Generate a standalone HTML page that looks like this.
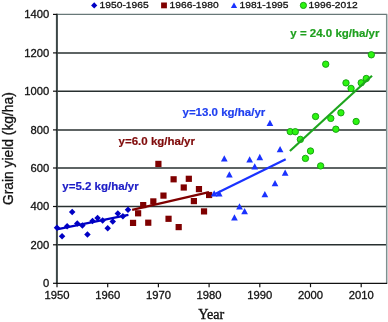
<!DOCTYPE html>
<html><head><meta charset="utf-8"><style>
html,body{margin:0;padding:0;background:#fff;}
body{width:388px;height:322px;overflow:hidden;}
svg{display:block;will-change:transform;}
.tl{font-family:"Liberation Sans",sans-serif;font-size:11.25px;fill:#111;stroke:#111;stroke-width:0.3px;}
.lg{font-family:"Liberation Sans",sans-serif;font-size:10.25px;fill:#111;stroke:#111;stroke-width:0.3px;}
.an{font-family:"Liberation Sans",sans-serif;font-size:11.5px;font-weight:bold;stroke-width:0.2px;}
.yt{font-family:"Liberation Sans",sans-serif;font-size:13.8px;fill:#111;stroke:#111;stroke-width:0.3px;}
.xt{font-family:"Liberation Serif",serif;font-size:14.1px;fill:#111;stroke:#111;stroke-width:0.35px;}
</style></head><body>
<svg width="388" height="322" viewBox="0 0 388 322">
<line x1="57" y1="52.9" x2="386.5" y2="52.9" stroke="#283030" stroke-width="1.45"/>
<line x1="57" y1="91.2" x2="386.5" y2="91.2" stroke="#283030" stroke-width="1.45"/>
<line x1="57" y1="129.9" x2="386.5" y2="129.9" stroke="#283030" stroke-width="1.45"/>
<line x1="57" y1="168.0" x2="386.5" y2="168.0" stroke="#283030" stroke-width="1.45"/>
<line x1="57" y1="206.5" x2="386.5" y2="206.5" stroke="#283030" stroke-width="1.45"/>
<line x1="57" y1="244.8" x2="386.5" y2="244.8" stroke="#283030" stroke-width="1.45"/>
<line x1="57" y1="14.4" x2="387.2" y2="14.4" stroke="#687878" stroke-width="1.3"/>
<line x1="386.7" y1="14.4" x2="386.7" y2="283.3" stroke="#7f9090" stroke-width="1.5"/>
<line x1="56.9" y1="13.8" x2="56.9" y2="284" stroke="#3b4646" stroke-width="2"/>
<line x1="56" y1="283.3" x2="387.2" y2="283.3" stroke="#111" stroke-width="1.3"/>
<line x1="53" y1="14.4" x2="57" y2="14.4" stroke="#111" stroke-width="1.2"/>
<text transform="translate(49.3,18.3) scale(1,0.95)" class="tl" text-anchor="end">1400</text>
<line x1="53" y1="52.9" x2="57" y2="52.9" stroke="#111" stroke-width="1.2"/>
<text transform="translate(49.3,56.8) scale(1,0.95)" class="tl" text-anchor="end">1200</text>
<line x1="53" y1="91.2" x2="57" y2="91.2" stroke="#111" stroke-width="1.2"/>
<text transform="translate(49.3,95.1) scale(1,0.95)" class="tl" text-anchor="end">1000</text>
<line x1="53" y1="129.9" x2="57" y2="129.9" stroke="#111" stroke-width="1.2"/>
<text transform="translate(49.3,133.8) scale(1,0.95)" class="tl" text-anchor="end">800</text>
<line x1="53" y1="168.0" x2="57" y2="168.0" stroke="#111" stroke-width="1.2"/>
<text transform="translate(49.3,171.9) scale(1,0.95)" class="tl" text-anchor="end">600</text>
<line x1="53" y1="206.5" x2="57" y2="206.5" stroke="#111" stroke-width="1.2"/>
<text transform="translate(49.3,210.4) scale(1,0.95)" class="tl" text-anchor="end">400</text>
<line x1="53" y1="244.8" x2="57" y2="244.8" stroke="#111" stroke-width="1.2"/>
<text transform="translate(49.3,248.7) scale(1,0.95)" class="tl" text-anchor="end">200</text>
<line x1="53" y1="283.3" x2="57" y2="283.3" stroke="#111" stroke-width="1.2"/>
<text transform="translate(49.3,287.2) scale(1,0.95)" class="tl" text-anchor="end">0</text>
<line x1="57.00" y1="283.3" x2="57.00" y2="287.2" stroke="#111" stroke-width="1.2"/>
<text transform="translate(57.00,299.3) scale(1,0.94)" class="tl" text-anchor="middle">1950</text>
<line x1="107.70" y1="283.3" x2="107.70" y2="287.2" stroke="#111" stroke-width="1.2"/>
<text transform="translate(107.70,299.3) scale(1,0.94)" class="tl" text-anchor="middle">1960</text>
<line x1="158.40" y1="283.3" x2="158.40" y2="287.2" stroke="#111" stroke-width="1.2"/>
<text transform="translate(158.40,299.3) scale(1,0.94)" class="tl" text-anchor="middle">1970</text>
<line x1="209.10" y1="283.3" x2="209.10" y2="287.2" stroke="#111" stroke-width="1.2"/>
<text transform="translate(209.10,299.3) scale(1,0.94)" class="tl" text-anchor="middle">1980</text>
<line x1="259.80" y1="283.3" x2="259.80" y2="287.2" stroke="#111" stroke-width="1.2"/>
<text transform="translate(259.80,299.3) scale(1,0.94)" class="tl" text-anchor="middle">1990</text>
<line x1="310.50" y1="283.3" x2="310.50" y2="287.2" stroke="#111" stroke-width="1.2"/>
<text transform="translate(310.50,299.3) scale(1,0.94)" class="tl" text-anchor="middle">2000</text>
<line x1="361.20" y1="283.3" x2="361.20" y2="287.2" stroke="#111" stroke-width="1.2"/>
<text transform="translate(361.20,299.3) scale(1,0.94)" class="tl" text-anchor="middle">2010</text>
<line x1="56.7" y1="229.3" x2="128.4" y2="214.9" stroke="#0000c4" stroke-width="2.2"/>
<path d="M57.00 224.55L60.25 227.80L57.00 231.05L53.75 227.80Z" fill="#0000c4"/>
<path d="M62.07 232.95L65.32 236.20L62.07 239.45L58.82 236.20Z" fill="#0000c4"/>
<path d="M67.14 223.05L70.39 226.30L67.14 229.55L63.89 226.30Z" fill="#0000c4"/>
<path d="M72.21 208.65L75.46 211.90L72.21 215.15L68.96 211.90Z" fill="#0000c4"/>
<path d="M77.28 220.25L80.53 223.50L77.28 226.75L74.03 223.50Z" fill="#0000c4"/>
<path d="M82.35 222.25L85.60 225.50L82.35 228.75L79.10 225.50Z" fill="#0000c4"/>
<path d="M87.42 231.35L90.67 234.60L87.42 237.85L84.17 234.60Z" fill="#0000c4"/>
<path d="M92.49 217.75L95.74 221.00L92.49 224.25L89.24 221.00Z" fill="#0000c4"/>
<path d="M97.56 214.85L100.81 218.10L97.56 221.35L94.31 218.10Z" fill="#0000c4"/>
<path d="M102.63 217.25L105.88 220.50L102.63 223.75L99.38 220.50Z" fill="#0000c4"/>
<path d="M107.70 224.95L110.95 228.20L107.70 231.45L104.45 228.20Z" fill="#0000c4"/>
<path d="M112.77 218.35L116.02 221.60L112.77 224.85L109.52 221.60Z" fill="#0000c4"/>
<path d="M117.84 210.35L121.09 213.60L117.84 216.85L114.59 213.60Z" fill="#0000c4"/>
<path d="M122.91 213.05L126.16 216.30L122.91 219.55L119.66 216.30Z" fill="#0000c4"/>
<path d="M127.98 206.55L131.23 209.80L127.98 213.05L124.73 209.80Z" fill="#0000c4"/>
<line x1="132.2" y1="209.9" x2="209" y2="192.1" stroke="#7f0000" stroke-width="2.2"/>
<rect x="129.95" y="219.80" width="6.2" height="6.2" fill="#7f0000"/>
<rect x="135.02" y="210.20" width="6.2" height="6.2" fill="#7f0000"/>
<rect x="140.09" y="202.00" width="6.2" height="6.2" fill="#7f0000"/>
<rect x="145.16" y="219.60" width="6.2" height="6.2" fill="#7f0000"/>
<rect x="150.23" y="198.30" width="6.2" height="6.2" fill="#7f0000"/>
<rect x="155.30" y="160.80" width="6.2" height="6.2" fill="#7f0000"/>
<rect x="160.37" y="192.50" width="6.2" height="6.2" fill="#7f0000"/>
<rect x="165.44" y="215.70" width="6.2" height="6.2" fill="#7f0000"/>
<rect x="170.51" y="176.20" width="6.2" height="6.2" fill="#7f0000"/>
<rect x="175.58" y="224.00" width="6.2" height="6.2" fill="#7f0000"/>
<rect x="180.65" y="184.40" width="6.2" height="6.2" fill="#7f0000"/>
<rect x="185.72" y="175.70" width="6.2" height="6.2" fill="#7f0000"/>
<rect x="190.79" y="198.00" width="6.2" height="6.2" fill="#7f0000"/>
<rect x="195.86" y="186.00" width="6.2" height="6.2" fill="#7f0000"/>
<rect x="200.93" y="208.30" width="6.2" height="6.2" fill="#7f0000"/>
<rect x="206.00" y="191.90" width="6.2" height="6.2" fill="#7f0000"/>
<path d="M214.17 190.15L217.52 196.45L210.82 196.45Z" fill="#1a32ff"/>
<path d="M219.24 190.15L222.59 196.45L215.89 196.45Z" fill="#1a32ff"/>
<path d="M224.31 155.15L227.66 161.45L220.96 161.45Z" fill="#1a32ff"/>
<path d="M229.38 171.25L232.73 177.55L226.03 177.55Z" fill="#1a32ff"/>
<path d="M234.45 214.15L237.80 220.45L231.10 220.45Z" fill="#1a32ff"/>
<path d="M239.52 203.25L242.87 209.55L236.17 209.55Z" fill="#1a32ff"/>
<path d="M244.59 207.95L247.94 214.25L241.24 214.25Z" fill="#1a32ff"/>
<path d="M249.66 156.25L253.01 162.55L246.31 162.55Z" fill="#1a32ff"/>
<path d="M254.73 163.25L258.08 169.55L251.38 169.55Z" fill="#1a32ff"/>
<path d="M259.80 153.85L263.15 160.15L256.45 160.15Z" fill="#1a32ff"/>
<path d="M264.87 190.95L268.22 197.25L261.52 197.25Z" fill="#1a32ff"/>
<path d="M269.94 119.65L273.29 125.95L266.59 125.95Z" fill="#1a32ff"/>
<path d="M275.01 180.05L278.36 186.35L271.66 186.35Z" fill="#1a32ff"/>
<path d="M280.08 145.95L283.43 152.25L276.73 152.25Z" fill="#1a32ff"/>
<path d="M285.15 169.45L288.50 175.75L281.80 175.75Z" fill="#1a32ff"/>
<line x1="214" y1="194.4" x2="285.7" y2="159.3" stroke="#1a32ff" stroke-width="2.2"/>
<circle cx="290.22" cy="131.60" r="3.2" fill="#2cf510" stroke="#139a10" stroke-width="0.9"/>
<circle cx="295.29" cy="131.70" r="3.2" fill="#2cf510" stroke="#139a10" stroke-width="0.9"/>
<circle cx="300.36" cy="139.40" r="3.2" fill="#2cf510" stroke="#139a10" stroke-width="0.9"/>
<circle cx="305.43" cy="158.40" r="3.2" fill="#2cf510" stroke="#139a10" stroke-width="0.9"/>
<circle cx="310.50" cy="151.00" r="3.2" fill="#2cf510" stroke="#139a10" stroke-width="0.9"/>
<circle cx="315.57" cy="116.50" r="3.2" fill="#2cf510" stroke="#139a10" stroke-width="0.9"/>
<circle cx="320.64" cy="165.90" r="3.2" fill="#2cf510" stroke="#139a10" stroke-width="0.9"/>
<circle cx="325.71" cy="64.20" r="3.2" fill="#2cf510" stroke="#139a10" stroke-width="0.9"/>
<circle cx="330.78" cy="118.40" r="3.2" fill="#2cf510" stroke="#139a10" stroke-width="0.9"/>
<circle cx="335.85" cy="129.20" r="3.2" fill="#2cf510" stroke="#139a10" stroke-width="0.9"/>
<circle cx="340.92" cy="112.80" r="3.2" fill="#2cf510" stroke="#139a10" stroke-width="0.9"/>
<circle cx="345.99" cy="82.90" r="3.2" fill="#2cf510" stroke="#139a10" stroke-width="0.9"/>
<circle cx="351.06" cy="88.40" r="3.2" fill="#2cf510" stroke="#139a10" stroke-width="0.9"/>
<circle cx="356.13" cy="121.50" r="3.2" fill="#2cf510" stroke="#139a10" stroke-width="0.9"/>
<circle cx="361.20" cy="82.80" r="3.2" fill="#2cf510" stroke="#139a10" stroke-width="0.9"/>
<circle cx="366.27" cy="78.50" r="3.2" fill="#2cf510" stroke="#139a10" stroke-width="0.9"/>
<circle cx="371.34" cy="54.80" r="3.2" fill="#2cf510" stroke="#139a10" stroke-width="0.9"/>
<line x1="289.9" y1="151" x2="372" y2="75.8" stroke="#1ea51e" stroke-width="2.2"/>
<text x="62.3" y="189.8" class="an" fill="#1c1cc6" stroke="#1c1cc6">y=5.2 kg/ha/yr</text>
<text x="118.6" y="144.6" class="an" fill="#7f0a0a" stroke="#7f0a0a">y=6.0 kg/ha/yr</text>
<text x="182.5" y="116.4" class="an" fill="#1f3ff0" stroke="#1f3ff0">y=13.0 kg/ha/yr</text>
<text x="290.3" y="37.0" class="an" fill="#1fa01f" stroke="#1fa01f">y = 24.0 kg/ha/yr</text>
<path d="M94.20 2.30L97.30 5.40L94.20 8.50L91.10 5.40Z" fill="#0000c4"/>
<text transform="translate(99.6,8.4) scale(1,0.9)" class="lg">1950-1965</text>
<rect x="161.10" y="2.50" width="5.8" height="5.8" fill="#7f0000"/>
<text transform="translate(169.6,8.4) scale(1,0.9)" class="lg">1966-1980</text>
<path d="M234.00 2.50L237.15 8.10L230.85 8.10Z" fill="#1a32ff"/>
<text transform="translate(239.5,8.4) scale(1,0.9)" class="lg">1981-1995</text>
<circle cx="303.40" cy="5.40" r="3.1" fill="#2cf510" stroke="#139a10" stroke-width="0.9"/>
<text transform="translate(308.6,8.4) scale(1,0.9)" class="lg">1996-2012</text>
<text transform="translate(12.5,148.6) rotate(-90)" text-anchor="middle" class="yt">Grain yield (kg/ha)</text>
<text x="211.2" y="318.5" text-anchor="middle" class="xt">Year</text>
</svg>
</body></html>
